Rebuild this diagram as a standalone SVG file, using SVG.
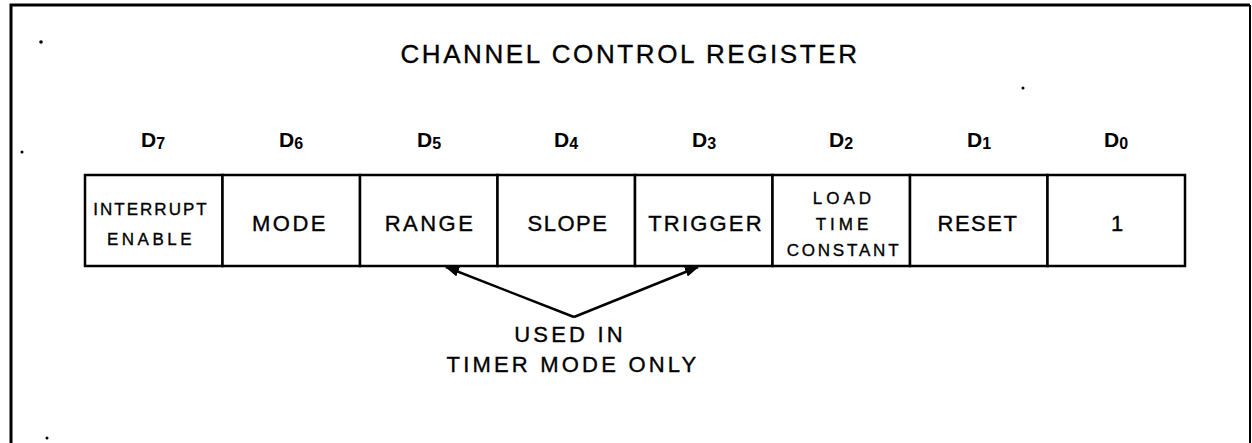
<svg xmlns="http://www.w3.org/2000/svg" width="1252" height="443" viewBox="0 0 1252 443">
  <style>
    text { font-family: "Liberation Sans", Arial, sans-serif; fill: #000; stroke: #000; stroke-width: 0.35; text-anchor: middle; }
    .title { font-size: 26px; letter-spacing: 2.6px; }
    .bit { font-size: 21px; font-weight: bold; stroke-width: 0; }
    .sub { font-size: 16px; }
    .lbl { font-size: 22px; letter-spacing: 2.5px; }
    .sm { font-size: 17px; letter-spacing: 2px; }
    .box { fill: #fff; stroke: #000; stroke-width: 2.5; }
    .frame { fill: none; stroke: #000; stroke-width: 3; }
    .conn { fill: none; stroke: #000; stroke-width: 2.5; }
    .note { font-size: 22px; letter-spacing: 3.2px; }
  </style>
  <defs>
    <marker id="arrow" viewBox="0 0 14 10" refX="13" refY="5" markerWidth="14" markerHeight="10" markerUnits="userSpaceOnUse" orient="auto">
      <path d="M0,0 L14,5 L0,10 Z" fill="#000"/>
    </marker>
  </defs>
  <rect width="1252" height="443" fill="#fff"/>
  <g id="frame">
    <path class="frame" d="M11,443 L11,5 L1250,5"/>
    <path d="M1250,5 L1250,443" fill="none" stroke="#000" stroke-width="2"/>
    <circle cx="41" cy="42" r="1.8"/>
    <circle cx="1023" cy="88" r="1.5"/>
    <circle cx="22" cy="152" r="1.5"/>
    <circle cx="47" cy="438" r="1.5"/>
  </g>
  <text id="title" class="title" x="630" y="63">CHANNEL CONTROL REGISTER</text>
  <g id="bits">
    <text class="bit" x="153" y="147">D<tspan class="sub" dy="2">7</tspan></text>
    <text class="bit" x="291" y="147">D<tspan class="sub" dy="2">6</tspan></text>
    <text class="bit" x="429" y="147">D<tspan class="sub" dy="2">5</tspan></text>
    <text class="bit" x="566" y="147">D<tspan class="sub" dy="2">4</tspan></text>
    <text class="bit" x="704" y="147">D<tspan class="sub" dy="2">3</tspan></text>
    <text class="bit" x="841" y="147">D<tspan class="sub" dy="2">2</tspan></text>
    <text class="bit" x="979" y="147">D<tspan class="sub" dy="2">1</tspan></text>
    <text class="bit" x="1116" y="147">D<tspan class="sub" dy="2">0</tspan></text>
  </g>
  <g id="bit-d7">
    <rect class="box" x="85" y="175" width="137.5" height="91"/>
    <text class="sm" x="151" y="215">INTERRUPT</text>
    <text class="sm" x="151" y="245" style="letter-spacing:3.5px">ENABLE</text>
  </g>
  <g id="bit-d6">
    <rect class="box" x="222.5" y="175" width="137.5" height="91"/>
    <text class="lbl" x="290" y="231">MODE</text>
  </g>
  <g id="bit-d5">
    <rect class="box" x="360" y="175" width="137.5" height="91"/>
    <text class="lbl" x="430" y="231">RANGE</text>
  </g>
  <g id="bit-d4">
    <rect class="box" x="497.5" y="175" width="137.5" height="91"/>
    <text class="lbl" x="568" y="231" style="letter-spacing:1.5px">SLOPE</text>
  </g>
  <g id="bit-d3">
    <rect class="box" x="635" y="175" width="137.5" height="91"/>
    <text class="lbl" x="706" y="231" style="letter-spacing:2.2px">TRIGGER</text>
  </g>
  <g id="bit-d2">
    <rect class="box" x="772.5" y="175" width="137.5" height="91"/>
    <text class="sm" x="844" y="204" style="letter-spacing:4px">LOAD</text>
    <text class="sm" x="844" y="230" style="letter-spacing:4px">TIME</text>
    <text class="sm" x="844" y="256" style="letter-spacing:2.8px">CONSTANT</text>
  </g>
  <g id="bit-d1">
    <rect class="box" x="910" y="175" width="137.5" height="91"/>
    <text class="lbl" x="978" y="231" style="letter-spacing:1.5px">RESET</text>
  </g>
  <g id="bit-d0">
    <rect class="box" x="1047.5" y="175" width="137.5" height="91"/>
    <text class="lbl" x="1117" y="231" style="letter-spacing:0">1</text>
  </g>
  <g id="connectors">
    <path class="conn" d="M574,317 L446,267" marker-end="url(#arrow)"/>
    <path class="conn" d="M574,317 L698,267" marker-end="url(#arrow)"/>
  </g>
  <g id="note">
    <text class="note" x="570" y="342">USED IN</text>
    <text class="note" x="573" y="372">TIMER MODE ONLY</text>
  </g>
</svg>
